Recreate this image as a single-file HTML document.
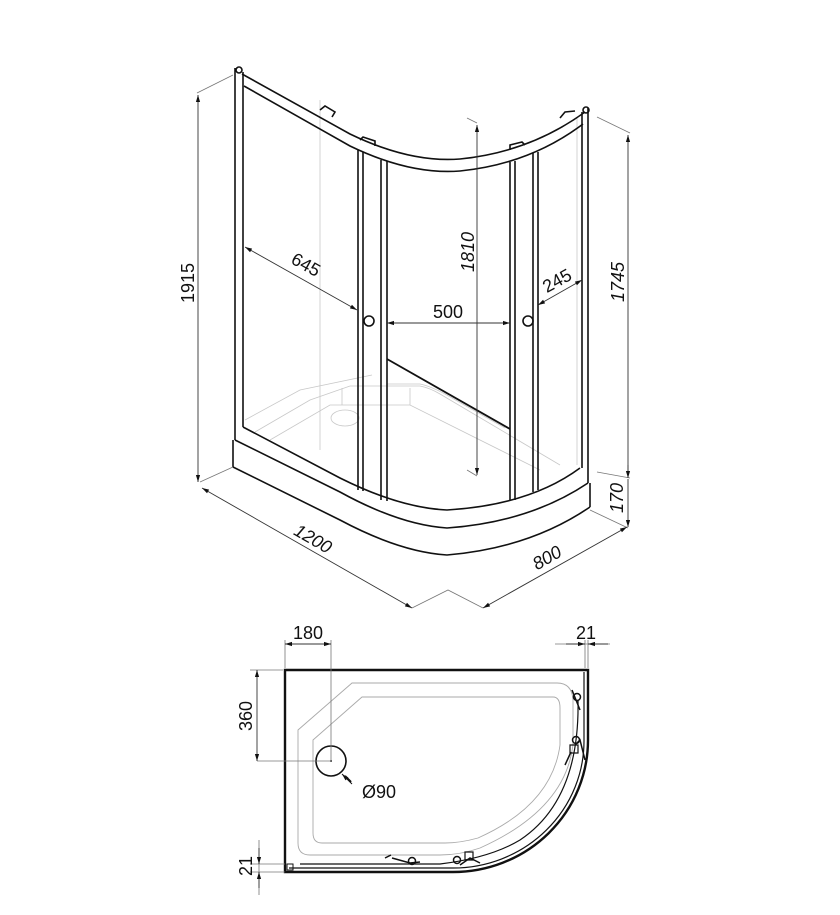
<!DOCTYPE html>
<html><head><meta charset="utf-8"><style>
html,body{margin:0;padding:0;background:#fff;}
svg{display:block;}
text{font-family:"Liberation Sans",Arial,sans-serif;fill:#111;}
</style></head><body>
<svg width="840" height="915" viewBox="0 0 840 915" xmlns="http://www.w3.org/2000/svg">
<defs>
<marker id="a" viewBox="0 0 10 10" refX="10" refY="5" markerWidth="9" markerHeight="7" orient="auto-start-reverse" markerUnits="userSpaceOnUse"><path d="M0,2 L10,5 L0,8 Z" fill="#111"/></marker>
</defs>

<g stroke="#c8c8c8" stroke-width="0.8" fill="none">
<line x1="320" y1="100" x2="320" y2="450"/>
<line x1="577" y1="118" x2="577" y2="465"/>
<path d="M245,420 L300,390 L372,375"/>
<path d="M255,432 L310,400 L350,386 L420,386 Q430,388 440,394 L560,465"/>
<path d="M270,440 L330,405 L410,405 L540,470"/>
<ellipse cx="345" cy="418" rx="14" ry="8"/>
<line x1="342" y1="388" x2="342" y2="405"/>
<line x1="410" y1="388" x2="410" y2="405"/>
<path d="M387,384 L420,384 Q430,386 445,394 L505,428"/>
</g>

<g stroke="#111" stroke-width="1.6" fill="none">
<line x1="235" y1="68" x2="235" y2="440"/>
<line x1="243" y1="72" x2="243" y2="427"/>
<circle cx="239" cy="70" r="3"/>
<line x1="582" y1="112" x2="582" y2="468"/>
<line x1="588" y1="108" x2="588" y2="483"/>
<circle cx="586" cy="110" r="3"/>
<path d="M242,74 L350,134 Q410,163 460,159 Q530,152 585,112"/>
<path d="M244,86 L350,146 Q410,175 460,171 Q530,164 583,124"/>
<path d="M320,110 l5,-4 l10,6 l-3,5"/>
<path d="M360,140 l3,-3 l12,4 l0,5"/>
<path d="M510,150 l0,-5 l12,-3 l3,3"/>
<path d="M560,118 l5,-6 l10,-1"/>
<line x1="358" y1="150" x2="358" y2="490"/>
<line x1="363" y1="152" x2="363" y2="491"/>
<line x1="381" y1="160" x2="381" y2="500"/>
<line x1="387" y1="161" x2="387" y2="501"/>
<line x1="510" y1="162" x2="510" y2="500"/>
<line x1="515" y1="161" x2="515" y2="500"/>
<line x1="533" y1="153" x2="533" y2="492"/>
<line x1="538" y1="152" x2="538" y2="490"/>
<circle cx="369" cy="321" r="5"/>
<circle cx="528" cy="321" r="5"/>
<line x1="387" y1="359" x2="510" y2="429" stroke-width="1.8"/>
<path d="M243,427 L340,478 Q400,508 447,510 Q530,505 580,468"/>
<path d="M235,440 L340,492 Q400,525 447,528 Q530,522 588,483"/>
<path d="M233,467 L340,520 Q400,552 447,555 Q530,548 590,507"/>
<line x1="233" y1="440" x2="233" y2="467"/>
<line x1="590" y1="483" x2="590" y2="507"/>
</g>

<g stroke="#777" stroke-width="0.8" fill="none">
<line x1="197" y1="93" x2="233" y2="75"/>
<line x1="200" y1="482" x2="233" y2="467"/>
<line x1="467" y1="118" x2="477" y2="123"/>
<line x1="467" y1="470" x2="477" y2="476"/>
<line x1="597" y1="117" x2="630" y2="133"/>
<line x1="597" y1="472" x2="630" y2="478"/>
<line x1="590" y1="510" x2="628" y2="528"/>
<path d="M412,608 L448,590 L483,608"/>
</g>
<g stroke="#333" stroke-width="0.9" fill="none">
<line x1="198" y1="95" x2="198" y2="482" marker-start="url(#a)" marker-end="url(#a)"/>
<line x1="477" y1="125" x2="477" y2="475" marker-start="url(#a)" marker-end="url(#a)"/>
<line x1="628" y1="135" x2="628" y2="477" marker-start="url(#a)"/>
<line x1="628" y1="479" x2="628" y2="527" marker-end="url(#a)"/>
<line x1="628" y1="465" x2="628" y2="478" marker-end="url(#a)"/>
<line x1="245" y1="247" x2="357" y2="310" marker-start="url(#a)" marker-end="url(#a)"/>
<line x1="387" y1="323" x2="510" y2="323" marker-start="url(#a)" marker-end="url(#a)"/>
<line x1="538" y1="305" x2="582" y2="280" marker-start="url(#a)" marker-end="url(#a)"/>
<line x1="202" y1="488" x2="412" y2="608" marker-start="url(#a)" marker-end="url(#a)"/>
<line x1="483" y1="608" x2="627" y2="527" marker-start="url(#a)" marker-end="url(#a)"/>
</g>
<g font-size="18">
<text transform="translate(194,283) rotate(-90)" text-anchor="middle">1915</text>
<text transform="translate(303,270) rotate(29)" text-anchor="middle">645</text>
<text transform="translate(474,252) rotate(-90)" text-anchor="middle" font-style="italic">1810</text>
<text x="448" y="318" text-anchor="middle">500</text>
<text transform="translate(560,286) rotate(-29)" text-anchor="middle">245</text>
<text transform="translate(624,282) rotate(-90)" text-anchor="middle" font-style="italic">1745</text>
<text transform="translate(623,498) rotate(-90)" text-anchor="middle" font-style="italic">170</text>
<text transform="translate(310,544) rotate(30)" text-anchor="middle" font-style="italic">1200</text>
<text transform="translate(550,563) rotate(-30)" text-anchor="middle" font-style="italic">800</text>
</g>

<!-- TOP VIEW -->
<g stroke="#aaa" stroke-width="0.9" fill="none">
<path d="M298,730 L352,683 L557,683 Q572,683 573,700 L573,745 Q565,810 480,848 Q460,855 440,855 L310,855 Q298,855 298,843 Z"/>
<path d="M313,740 L362,697 L553,697 Q560,697 560,708 L560,745 Q552,805 478,838 Q460,843 445,843 L322,843 Q313,843 313,833 Z"/>
</g>
<g stroke="#111" fill="none">
<path d="M285,670 H588 V740 A135,132 0 0 1 453,872 H285 Z" stroke-width="2.4"/>
<path d="M584,672 V740 A131,127 0 0 1 453,868 H289" stroke-width="1.2"/>
<path d="M578,700 Q580,800 520,840 Q490,858 440,864 H300" stroke-width="1.2"/>
<path d="M572,690 L580,710 M575,745 L580,740 L585,760 M392,858 L410,863 L420,862 M460,865 L470,858 L480,863" stroke-width="1.5"/>
<circle cx="577" cy="697" r="3.5" stroke-width="1.5"/>
<circle cx="576" cy="740" r="3.5" stroke-width="1.5"/>
<circle cx="412" cy="861" r="3.5" stroke-width="1.5"/>
<circle cx="457" cy="860" r="3.5" stroke-width="1.5"/>
<path d="M570,745 h8 v8 h-8 z M465,852 h8 v8 h-8 z" stroke-width="1.2"/>
<path d="M571,752 L565,765 M391,855 L385,858" stroke-width="1.5"/>
<circle cx="331" cy="761" r="15" stroke-width="1.6"/>
<rect x="287" y="864" width="6" height="6" stroke-width="1"/>
<line x1="345" y1="776" x2="351" y2="782" stroke-width="2"/>
<line x1="342" y1="774" x2="352" y2="784" marker-start="url(#a)" stroke-width="1"/>
</g>
<circle cx="331" cy="761" r="1" fill="#333"/>
<g stroke="#777" stroke-width="0.8" fill="none">
<line x1="285" y1="640" x2="285" y2="668"/>
<line x1="331" y1="640" x2="331" y2="760"/>
<line x1="250" y1="670" x2="283" y2="670"/>
<line x1="257" y1="761" x2="331" y2="761"/>
<line x1="585" y1="640" x2="585" y2="668"/>
<line x1="588" y1="640" x2="588" y2="668"/>
<line x1="555" y1="644" x2="610" y2="644"/>
<line x1="250" y1="864" x2="285" y2="864"/>
<line x1="250" y1="872" x2="285" y2="872"/>
<line x1="259" y1="840" x2="259" y2="895"/>
</g>
<g stroke="#333" stroke-width="0.9" fill="none">
<line x1="285" y1="644" x2="331" y2="644" marker-start="url(#a)" marker-end="url(#a)"/>
<line x1="257" y1="670" x2="257" y2="761" marker-start="url(#a)" marker-end="url(#a)"/>
<line x1="566" y1="644" x2="585" y2="644" marker-end="url(#a)"/>
<line x1="608" y1="644" x2="588" y2="644" marker-end="url(#a)"/>
<line x1="259" y1="848" x2="259" y2="864" marker-end="url(#a)"/>
<line x1="259" y1="888" x2="259" y2="872" marker-end="url(#a)"/>
</g>
<g font-size="18">
<text x="308" y="639" text-anchor="middle">180</text>
<text x="586" y="639" text-anchor="middle">21</text>
<text transform="translate(252,716) rotate(-90)" text-anchor="middle">360</text>
<text transform="translate(252,866) rotate(-90)" text-anchor="middle">21</text>
<text x="362" y="798">Ø90</text>
</g>
</svg>
</body></html>
